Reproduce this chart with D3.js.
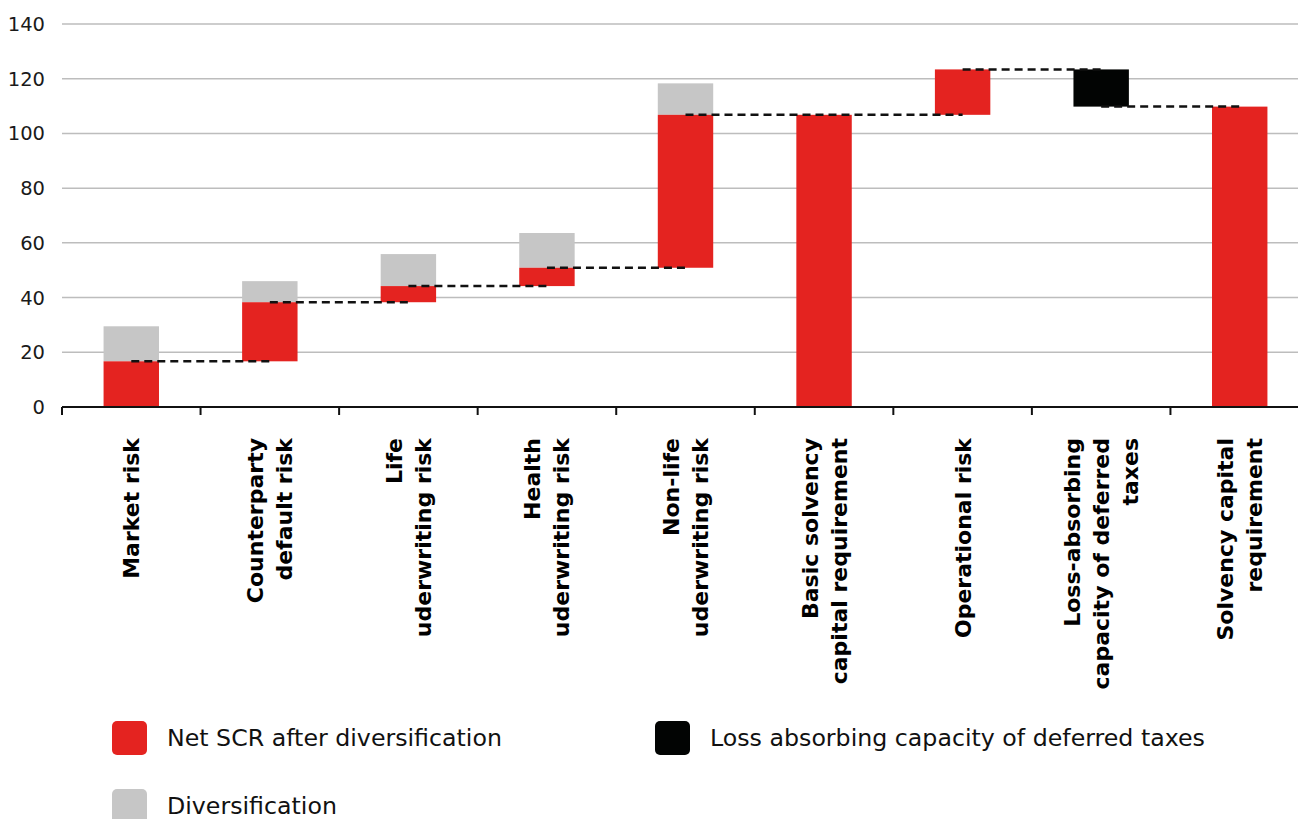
<!DOCTYPE html>
<html>
<head>
<meta charset="utf-8">
<script src="https://cdn.jsdelivr.net/npm/d3@7"></script>
<style>
  html, body { margin: 0; padding: 0; background: #fff; }
  svg { display: block; }
</style>
</head>
<body>
<svg id="chart"></svg>
<script>
// categories (lines of the rotated label)
const categories = [
    ["Market risk"],
    ["Counterparty", "default risk"],
    ["Life", "uderwriting risk"],
    ["Health", "uderwriting risk"],
    ["Non-life", "uderwriting risk"],
    ["Basic solvency", "capital requirement"],
    ["Operational risk"],
    ["Loss-absorbing", "capacity of deferred", "taxes"],
    ["Solvency capital", "requirement"]
];
// "step" bars float on the running total, "total" bars start at 0
const barType = ["step", "step", "step", "step", "step", "total", "step", "tax", "total"];
const netSCR = [16.7, 21.6, 5.9, 6.7, 55.9, 106.8, 16.6, -13.6, 109.8];
const diversification = [12.8, 7.7, 11.7, 12.7, 11.5, 0, 0, 0, 0];
const yTicks = [0, 20, 40, 60, 80, 100, 120, 140];
const legendItems = ["Net SCR after diversification", "Loss absorbing capacity of deferred taxes", "Diversification"];

const width = 1298, height = 819;
const red = "#e42320", grey = "#c6c6c6", black = "#020403";
const font = "'DejaVu Sans', sans-serif";

const svg = d3.select("#chart").attr("width", width).attr("height", height);

const x = d3.scaleBand()
    .domain(d3.range(categories.length))
    .range([62, 1309])
    .paddingInner(0.6)
    .paddingOuter(0.3);

const y = d3.scaleLinear().domain([0, 140]).range([407, 24]);

// running totals
let running = 0;
const bars = netSCR.map((v, i) => {
    let start;
    if (barType[i] === "total") { start = 0; running = v; }
    else { start = running; running = running + v; }
    return { i, start, end: running, type: barType[i], div: diversification[i] };
});

// grid
svg.append("g")
    .selectAll("line")
    .data(yTicks.filter(d => d > 0))
    .join("line")
    .attr("x1", 62).attr("x2", width)
    .attr("y1", d => y(d)).attr("y2", d => y(d))
    .attr("stroke", "#bdbdbd").attr("stroke-width", 1.5);

// y labels
svg.append("g")
    .selectAll("text")
    .data(yTicks)
    .join("text")
    .attr("x", 45).attr("y", d => y(d) + 7)
    .attr("text-anchor", "end")
    .attr("font-family", font).attr("font-size", 19.5).attr("fill", "#1a1a1a")
    .text(d => d);

// diversification on top of the step bars
svg.append("g")
    .selectAll("rect")
    .data(bars.filter(d => d.div > 0))
    .join("rect")
    .attr("x", d => x(d.i)).attr("width", x.bandwidth())
    .attr("y", d => y(d.end + d.div))
    .attr("height", d => y(d.end) - y(d.end + d.div))
    .attr("fill", grey);

svg.append("g")
    .selectAll("rect")
    .data(bars)
    .join("rect")
    .attr("x", d => x(d.i)).attr("width", x.bandwidth())
    .attr("y", d => y(Math.max(d.start, d.end)))
    .attr("height", d => Math.abs(y(d.start) - y(d.end)))
    .attr("fill", d => d.type === "tax" ? black : red);

// dashed connectors, centre to centre
const cx = i => x(i) + x.bandwidth() / 2;
const links = [];
bars.forEach((d, i) => {
    if (d.type === "total" || i === bars.length - 1) return;
    let j = i + 1;
    while (j < bars.length - 1 && bars[j].type === "total") j++;
    links.push({ from: i, to: j, v: d.end });
});
svg.append("g")
    .selectAll("line")
    .data(links)
    .join("line")
    .attr("x1", d => cx(d.from)).attr("x2", d => cx(d.to))
    .attr("y1", d => y(d.v)).attr("y2", d => y(d.v))
    .attr("stroke", "#111").attr("stroke-width", 2.5)
    .attr("stroke-dasharray", "8,5");

// x axis
const axis = svg.append("g");
axis.append("line")
    .attr("x1", 62).attr("x2", width)
    .attr("y1", y(0)).attr("y2", y(0))
    .attr("stroke", "#111").attr("stroke-width", 2);
axis.selectAll(".tick")
    .data(d3.range(categories.length + 1))
    .join("line")
    .attr("class", "tick")
    .attr("x1", i => 62 + i * x.step()).attr("x2", i => 62 + i * x.step())
    .attr("y1", y(0)).attr("y2", y(0) + 8)
    .attr("stroke", "#111").attr("stroke-width", 2);

// rotated category labels
const lh = 29;
const lab = svg.append("g")
    .selectAll("text")
    .data(categories)
    .join("text")
    .attr("transform", (d, i) => `translate(${cx(i)},438) rotate(-90)`)
    .attr("text-anchor", "end")
    .attr("font-family", font).attr("font-size", 22).attr("font-weight", 700)
    .attr("fill", "#000");
lab.each(function (lines) {
    const t = d3.select(this);
    lines.forEach((s, k) => {
        t.append("tspan")
            .attr("x", 0)
            .attr("y", (k - (lines.length - 1) / 2) * lh + 8)
            .text(s);
    });
});

// legend
const legendPos = [[112, 721], [655, 721], [112, 789]];
const legendCol = [red, black, grey];
const lg = svg.append("g")
    .selectAll("g")
    .data(legendItems)
    .join("g")
    .attr("transform", (d, i) => `translate(${legendPos[i][0]},${legendPos[i][1]})`);
lg.append("rect")
    .attr("width", 35).attr("height", 34).attr("rx", 5)
    .attr("fill", (d, i) => legendCol[i]);
lg.append("text")
    .attr("x", 55).attr("y", 25)
    .attr("font-family", font).attr("font-size", 23.7).attr("fill", "#111")
    .text(d => d);
</script>
</body>
</html>
